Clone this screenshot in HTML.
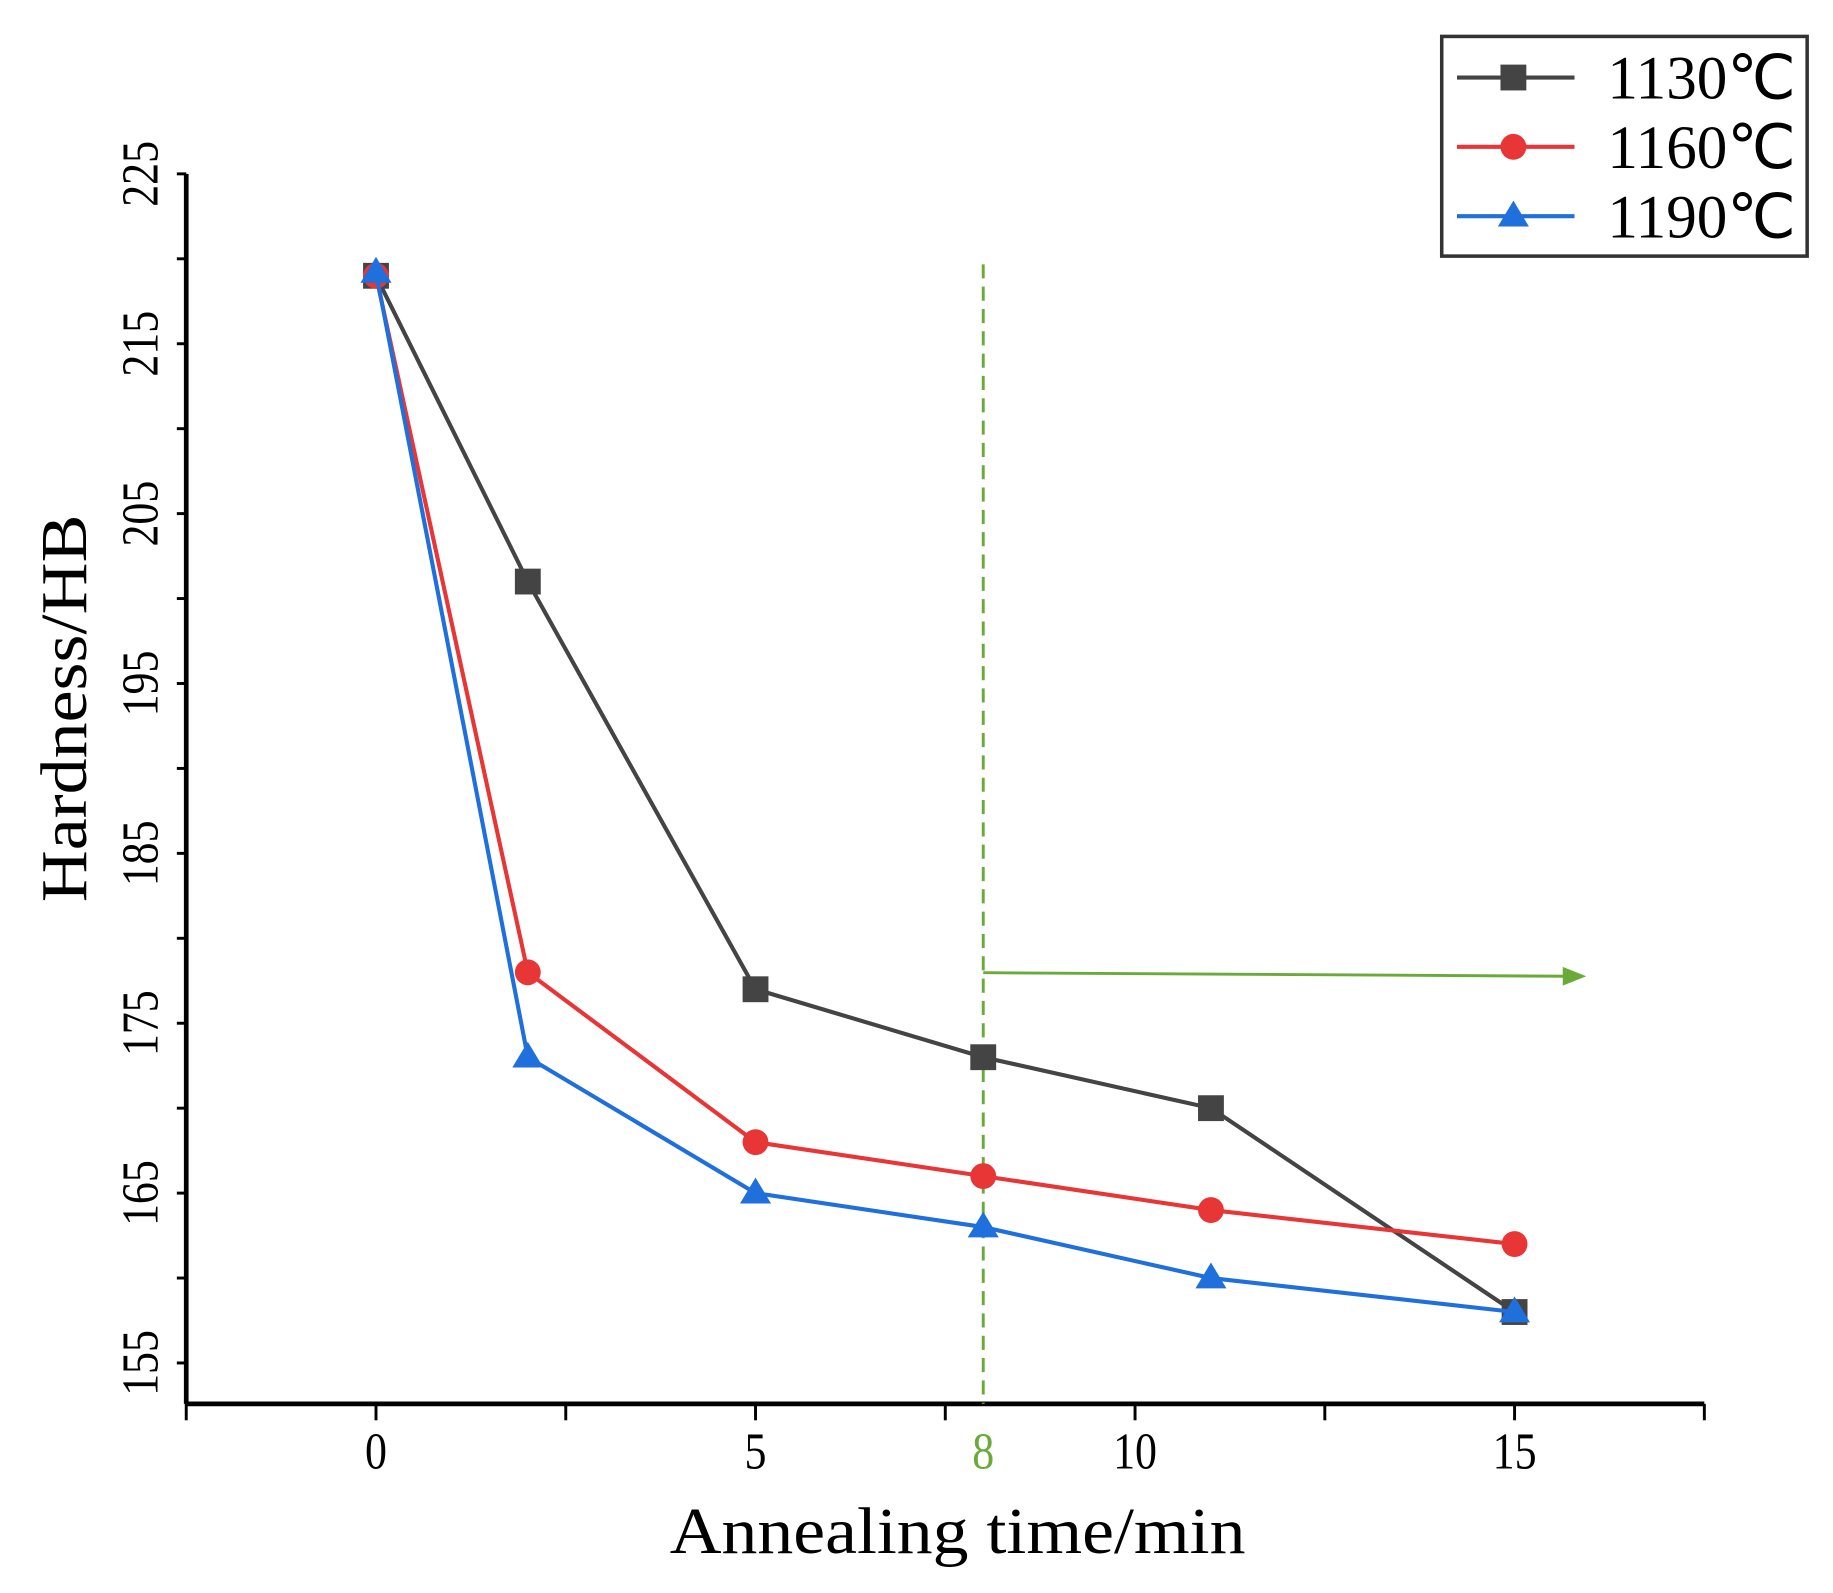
<!DOCTYPE html>
<html><head><meta charset="utf-8"><style>
html,body{margin:0;padding:0;background:#fff}
svg{display:block}
text{font-family:"Liberation Serif",serif}
</style></head><body>
<svg id="chart" width="1833" height="1593" viewBox="0 0 1560 1356" preserveAspectRatio="none" xmlns="http://www.w3.org/2000/svg">
<g id="axes"></g>
<g id="series"></g>
<g id="legend">
<rect x="1227" y="31" width="311" height="187" fill="#fff" stroke="#333" stroke-width="3"/>
</g>
<text x="815" y="1322" text-anchor="middle" font-size="56" textLength="490" lengthAdjust="spacingAndGlyphs">Annealing time/min</text>
<text transform="translate(73,603) rotate(-90)" text-anchor="middle" font-size="56" textLength="330" lengthAdjust="spacingAndGlyphs">Hardness/HB</text>
</svg>
<script>
const times = [0, 2, 5, 8, 11, 15];
const seriesNames = ["1130℃", "1160℃", "1190℃"];
const hb1130 = [219, 201, 177, 173, 170, 158];
const hb1160 = [219, 178, 168, 166, 164, 162];
const hb1190 = [219.2, 173, 165, 163, 160, 158];
const xTicks = [0, 5, 10, 15];
const yTicks = [155, 165, 175, 185, 195, 205, 215, 225];
const markerTime = 8;

const NS = "http://www.w3.org/2000/svg";
const X = v => 320 + (v - 0) * 64.6;
const Y = v => 148 + (225 - v) * 14.46;
function mk(tag, attrs, parent) {
  const e = document.createElementNS(NS, tag);
  for (const k in attrs) e.setAttribute(k, attrs[k]);
  parent.appendChild(e);
  return e;
}
const axes = document.getElementById('axes');
const xAxisL = X(-2.5), xAxisR = X(17.5), yAxisB = 1195, yAxisT = Y(225);
let ln = mk('line', {x1: xAxisL, y1: yAxisB, x2: xAxisR, y2: yAxisB, stroke: '#000', 'stroke-width': 4}, axes);


ln = mk('line', {x1: xAxisL, y1: yAxisB, x2: xAxisL, y2: yAxisT, stroke: '#000', 'stroke-width': 4}, axes);


for (let v = -2.5; v <= 17.51; v += 2.5) {
  const t = mk('line', {x1: X(v), y1: yAxisB, x2: X(v), y2: yAxisB + 14, stroke: '#000', 'stroke-width': 2.5}, axes);
  
  
}
xTicks.forEach(v => {
  const t = mk('text', {transform: `translate(${X(v)},1250) scale(0.85,1)`, 'text-anchor': 'middle', 'font-size': 44}, axes);
  t.textContent = v;
  
  
});
const m8 = mk('text', {transform: `translate(${X(markerTime)},1250) scale(0.85,1)`, 'text-anchor': 'middle', 'font-size': 44, fill: '#6aaa3a'}, axes);
m8.textContent = markerTime;


for (let v = 155; v <= 225; v += 5) {
  const t = mk('line', {x1: xAxisL - 8, y1: Y(v), x2: xAxisL, y2: Y(v), stroke: '#000', 'stroke-width': 2.5}, axes);
  
  
}
yTicks.forEach(v => {
  const t = mk('text', {transform: `translate(134,${Y(v)}) rotate(-90) scale(0.85,1)`, 'text-anchor': 'middle', 'font-size': 44}, axes);
  t.textContent = v;
  
  
});
const vl = mk('line', {x1: X(markerTime), y1: 225, x2: X(markerTime), y2: yAxisB, stroke: '#6aaa3a', 'stroke-width': 2.5, 'stroke-dasharray': '12,7'}, axes);


const ar = mk('line', {x1: X(markerTime), y1: 828, x2: 1335, y2: 831, stroke: '#6aaa3a', 'stroke-width': 2.5}, axes);


const ah = mk('polygon', {points: '1330,823 1350,831 1330,839', fill: '#6aaa3a'}, axes);



const sg = document.getElementById('series');
const colors = ['#444', '#e83535', '#1f6fdc'];
const shapes = ['square', 'circle', 'triangle'];
function marker(shape, cx, cy, color, parent, s) {
  let e;
  if (shape === 'square') e = mk('rect', {x: cx - s, y: cy - s, width: 2 * s, height: 2 * s, fill: color}, parent);
  else if (shape === 'circle') e = mk('circle', {cx: cx, cy: cy, r: s, fill: color}, parent);
  else e = mk('polygon', {points: `${cx},${cy - s * 1.2} ${cx + s * 1.2},${cy + s * 0.8} ${cx - s * 1.2},${cy + s * 0.8}`, fill: color}, parent);
  return e;
}
[hb1130, hb1160, hb1190].forEach((vals, i) => {
  const g = mk('g', {}, sg);
  
  
  const pl = mk('polyline', {points: times.map((t, j) => X(t) + ',' + Y(vals[j])).join(' '), fill: 'none', stroke: colors[i], 'stroke-width': 3.5}, g);
  
  
  times.forEach((t, j) => {
    const m = marker(shapes[i], X(t), Y(vals[j]), colors[i], g, 11);
    
    
  });
});
const lg = document.getElementById('legend');
seriesNames.forEach((n, i) => {
  const y = 66 + i * 59;
  const l = mk('line', {x1: 1240, y1: y, x2: 1340, y2: y, stroke: colors[i], 'stroke-width': 3.5}, lg);
  
  
  const m = marker(shapes[i], 1288, y, colors[i], lg, 11);
  
  
  const t = mk('text', {x: 1368, y: y + 18, 'font-size': 52}, lg);
  t.textContent = n;
  
  
});
</script>
</body></html>
